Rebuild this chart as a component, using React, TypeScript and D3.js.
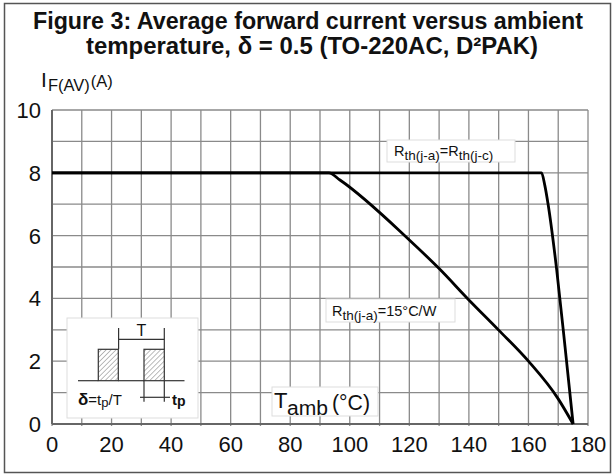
import React from "react";
import * as d3 from "d3";

const xTicks = [0, 20, 40, 60, 80, 100, 120, 140, 160, 180];
const yTicks = [0, 2, 4, 6, 8, 10];
const xGrid = d3.range(0, 181, 10);
const yGrid = d3.range(0, 11, 1);

// Rth(j-a) = Rth(j-c)
const curve1Temp = [0, 164.4, 165.5, 166.6, 169.5, 172.3, 175];
const curve1Current = [8, 8, 7.6, 7.0, 4.9, 2.45, 0];

// Rth(j-a) = 15°C/W
const curve2Temp = [0, 93, 96.7, 120, 130, 140, 150, 160, 170, 175];
const curve2Current = [8, 8, 7.77, 5.86, 4.95, 3.95, 2.99, 2.0, 0.8, 0];

const FONT = "'Liberation Sans', Arial, Helvetica, sans-serif";

export default function App() {
  const x = d3.scaleLinear().domain([0, 180]).range([52, 588]);
  const y = d3.scaleLinear().domain([0, 10]).range([424, 110]);
  const line = d3
    .line<[number, number]>()
    .x((d) => x(d[0]))
    .y((d) => y(d[1]))
    .curve(d3.curveMonotoneX);
  const c1 = line(curve1Temp.map((t, i) => [t, curve1Current[i]]) as [number, number][]) || "";
  const c2 = line(curve2Temp.map((t, i) => [t, curve2Current[i]]) as [number, number][]) || "";

  return (
    <svg
      width={615}
      height={475}
      style={{ position: "absolute", left: 0, top: 0, background: "#fff" }}
      fontFamily={FONT}
    >
      <defs>
        <pattern id="hatch" width="3.5" height="3.5" patternUnits="userSpaceOnUse" patternTransform="rotate(45)">
          <line x1="0" y1="0" x2="0" y2="3.5" stroke="#777" strokeWidth="1" />
        </pattern>
      </defs>
      <rect x={0} y={0} width={615} height={475} fill="#fff" />
      <rect x={4.5} y={3.5} width={606} height={469} fill="none" stroke="#555" strokeWidth={1.5} />

      {/* Title */}
      <text x={308} y={29} textAnchor="middle" fontSize={24} fontWeight="bold" fill="#111" textLength={550} lengthAdjust="spacingAndGlyphs">
        Figure 3: Average forward current versus ambient
      </text>
      <text x={312} y={54} textAnchor="middle" fontSize={24} fontWeight="bold" fill="#111" textLength={452} lengthAdjust="spacingAndGlyphs">
        temperature, δ = 0.5 (TO-220AC, D²PAK)
      </text>

      {/* Y label */}
      <text x={41} y={87} fontSize={21} fill="#111">
        I
        <tspan x={48} dy={4} fontSize={16.5}>F(AV)</tspan>
        <tspan dx={1} dy={-4} fontSize={16.5}>(A)</tspan>
      </text>

      {/* Grid */}
      {xGrid.map((v) => (
        <line key={"gx" + v} x1={x(v)} x2={x(v)} y1={y(10)} y2={y(0) + 2} stroke="#8a8a8a" strokeWidth={1.3} />
      ))}
      {yGrid.map((v) => (
        <line key={"gy" + v} x1={x(0)} x2={x(180)} y1={y(v)} y2={y(v)} stroke="#8a8a8a" strokeWidth={1.3} />
      ))}
      <line x1={x(0)} x2={x(0)} y1={y(10)} y2={y(0)} stroke="#666" strokeWidth={2} />
      <line x1={x(0)} x2={x(180)} y1={y(0)} y2={y(0)} stroke="#666" strokeWidth={2} />

      {/* Tick labels */}
      {yTicks.map((v) => (
        <text key={"ty" + v} x={41} y={y(v) + 8} textAnchor="end" fontSize={22} fill="#111">
          {v}
        </text>
      ))}
      {xTicks.map((v) => (
        <text key={"tx" + v} x={x(v)} y={452} textAnchor="middle" fontSize={22} fill="#111">
          {v}
        </text>
      ))}

      {/* Curves */}
      <path d={c2} fill="none" stroke="#000" strokeWidth={2.8} strokeLinejoin="round" />
      <path d={c1} fill="none" stroke="#000" strokeWidth={2.8} strokeLinejoin="round" />

      {/* Label: Rth(j-a)=Rth(j-c) */}
      <rect x={387} y={140} width={128} height={22} fill="#fff" stroke="#ddd" />
      <text x={394} y={156} fontSize={14.5} fill="#111">
        R<tspan fontSize={13.5} dy={4}>th(j-a)</tspan>
        <tspan dy={-4}>=R</tspan>
        <tspan fontSize={13.5} dy={4}>th(j-c)</tspan>
      </text>

      {/* Label: Rth(j-a)=15°C/W */}
      <rect x={326} y={299} width={129} height={23} fill="#fff" stroke="#ddd" />
      <text x={332} y={316} fontSize={14.5} fill="#111">
        R<tspan fontSize={13.5} dy={4}>th(j-a)</tspan>
        <tspan dy={-4}>=15°C/W</tspan>
      </text>

      {/* Tamb label */}
      <rect x={272} y={387} width={106} height={29} fill="#fff" stroke="#ddd" />
      <text x={274} y={408} fontSize={22} fill="#111">
        T
      </text>
      <text x={287} y={415} fontSize={20} fill="#111" textLength={41} lengthAdjust="spacingAndGlyphs">
        amb
      </text>
      <text x={332} y={410} fontSize={22} fill="#111" textLength={38} lengthAdjust="spacingAndGlyphs">
        (°C)
      </text>

      {/* Inset */}
      <rect x={67} y={318} width={131} height={100} fill="#fff" stroke="#ddd" />
      <g stroke="#333" strokeWidth={1.2} fill="none">
        <line x1={78} y1={380.7} x2={98.3} y2={380.7} />
        <line x1={118.3} y1={380.7} x2={144} y2={380.7} />
        <line x1={164.3} y1={380.7} x2={184.5} y2={380.7} />
        <line x1={118.6} y1={328} x2={118.6} y2={349.3} />
        <line x1={164.3} y1={328} x2={164.3} y2={349.3} />
        <line x1={118.6} y1={339.3} x2={164.3} y2={339.3} />
        <line x1={144} y1={380.7} x2={144} y2={401.7} />
        <line x1={164.3} y1={380.7} x2={164.3} y2={401.7} />
        <line x1={140} y1={397.3} x2={170} y2={397.3} />
      </g>
      <rect x={98.3} y={349.3} width={20} height={31.4} fill="url(#hatch)" stroke="#333" strokeWidth={1.2} />
      <rect x={144} y={349.3} width={20.3} height={31.4} fill="url(#hatch)" stroke="#333" strokeWidth={1.2} />
      <text x={141.5} y={336} textAnchor="middle" fontSize={16} fill="#111">
        T
      </text>
      <text x={78} y={405} fontSize={15} fill="#111">
        <tspan fontWeight="bold" fontSize={17}>δ</tspan>=t<tspan fontSize={13} dy={2}>p</tspan>
        <tspan dy={-2}>/T</tspan>
      </text>
      <text x={172} y={405} fontSize={15} fill="#111" fontWeight="bold">
        t<tspan fontSize={14} dy={1}>p</tspan>
      </text>
    </svg>
  );
}
